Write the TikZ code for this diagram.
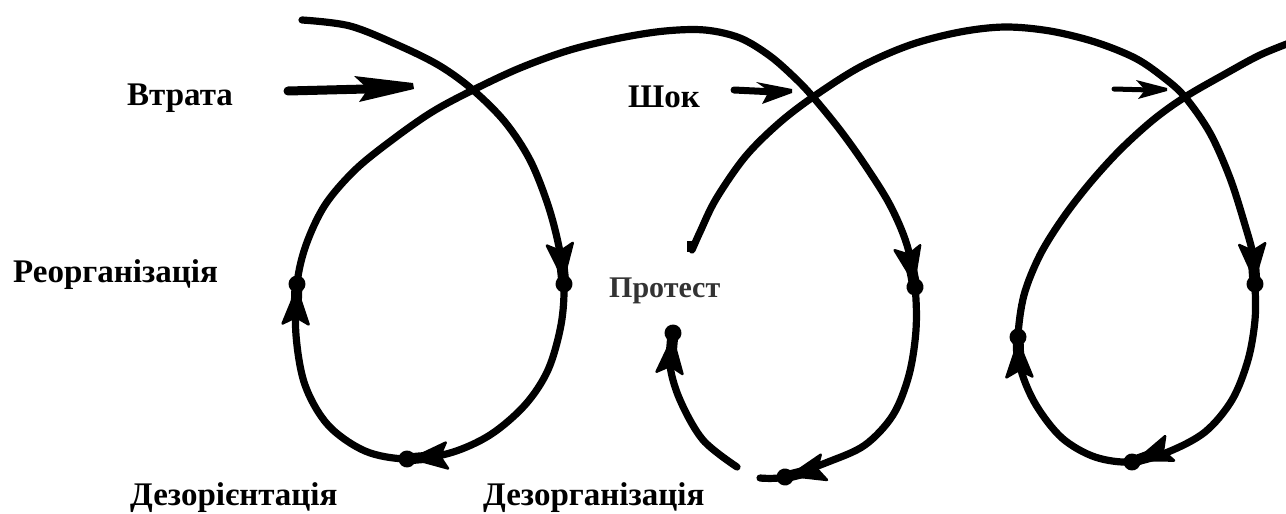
\documentclass[tikz,border=0pt]{standalone}
\usepackage{fontspec}
\setmainfont{Liberation Serif}
\definecolor{protgray}{HTML}{333333}
\tikzset{
  curve/.style={line width=7.2pt, line cap=round, line join=round},
  lbl/.style={inner sep=0pt, anchor=base west, font=\bfseries\fontsize{33}{40}\selectfont},
  mk/.pic={
    \fill (0,0) circle (8.5pt);
    \filldraw[line width=2.5pt, line join=round] (-5,0) -- (-40,13) -- (-33,0) -- (-40,-13) -- cycle;
    \fill (-30,-5.5) rectangle (-2,5.5);
  }
}
\begin{document}
\begin{tikzpicture}[x=1pt,y=-1pt]
\useasboundingbox (0,0) rectangle (1286,514);

% piece A: first loop and right half of second loop
\draw[curve] plot[smooth, tension=0.55] coordinates {
 (302,20) (350,26) (400,46) (440,66) (473,90) (505,122) (530,160) (548,205)
 (559,247) (564,284) (561,325) (548,370) (525,405) (490,435) (450,453) (407,459)
 (365,451) (328,425) (305,385) (296,335) (297,284) (306,245) (325,205) (355,170)
 (392,140) (432,112) (473,90) (520,68) (570,50) (620,38) (665,31) (705,30)
 (740,38) (770,56) (795,78) (813,97) (840,130) (865,165) (890,205) (907,245)
 (915,287) (916,330) (909,375) (893,415) (865,445) (828,462) (785,477) (760,478)};

% piece B: left part of second loop
\draw[curve] plot[smooth, tension=0.55] coordinates {
 (737,467) (703,440) (680,400) (670,365) (673,333)};

% piece C: rest of second loop and third loop
\draw[curve] plot[smooth, tension=0.55] coordinates {
 (692,250) (700,232) (716,199) (745,157) (778,124) (813,97) (860,67) (910,45)
 (960,32) (1005,27) (1050,31) (1095,42) (1135,58) (1163,77) (1185,97) (1210,133)
 (1230,178) (1245,225) (1253,255) (1255,284) (1255,320) (1248,360) (1232,400)
 (1205,432) (1168,452) (1132,462) (1095,457) (1062,438) (1036,405) (1021,370)
 (1018,337) (1024,295) (1040,255) (1063,218) (1090,183) (1120,150) (1153,120)
 (1185,97) (1225,74) (1260,55) (1292,42)};
\fill (687,241) rectangle (695,252);

% markers (arrowhead + dot)
\pic[rotate=-84] at (564,284) {mk};
\pic[rotate=185] at (407,459) {mk};
\pic[rotate=88] at (297,284) {mk};
\pic[rotate=-79] at (915,287) {mk};
\pic[rotate=194] at (785,477) {mk};
\pic[rotate=85] at (673,333) {mk};
\pic[rotate=-86] at (1255,284) {mk};
\pic[rotate=200] at (1132,462) {mk};
\pic[rotate=92] at (1018,337) {mk};

% incoming arrows
\coordinate (a1s) at (288,91);
\coordinate (a1e) at (366,89);
\draw[line width=9pt, line cap=round] (a1s) -- (a1e);
\fill (354,76) -- (413,83) -- (414,89) -- (359,102) -- (368,89) -- cycle;

\coordinate (a2s) at (734,90);
\coordinate (a2e) at (775,92);
\draw[line width=7pt, line cap=round] (a2s) -- (a2e);
\fill (756,82) -- (792,89) -- (792,93) -- (762,104) -- (769,91) -- cycle;

\coordinate (a3s) at (1114,89);
\coordinate (a3e) at (1150,90);
\draw[line width=5pt, line cap=round] (a3s) -- (a3e);
\fill (1136,80) -- (1167,88) -- (1167,91) -- (1138,99) -- (1145,90) -- cycle;

% labels
\node[lbl] (vtrata) at (127,105) {Втрата};
\node[lbl] (shok) at (628,107) {Шок};
\node[lbl] (reorg) at (13,282) {Реорганізація};
\node[lbl, text=protgray, font=\bfseries\fontsize{30}{36}\selectfont] (protest) at (609,297) {Протест};
\node[lbl] (dezor) at (130,505) {Дезорієнтація};
\node[lbl] (dezorg) at (483,505) {Дезорганізація};
\end{tikzpicture}
\end{document}
